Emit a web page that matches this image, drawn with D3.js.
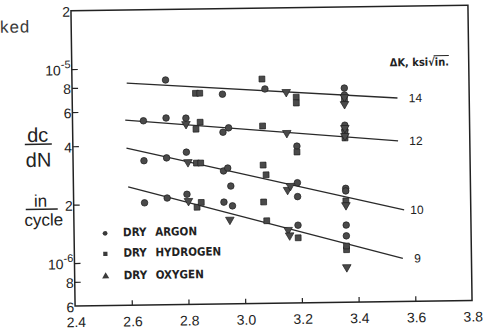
<!DOCTYPE html>
<html>
<head>
<meta charset="utf-8">
<script src="https://cdn.jsdelivr.net/npm/d3@7"></script>
<style>
  body { margin: 0; background: #fff; }
</style>
</head>
<body>
<div id="chart"></div>
<script>
// values are in units of 1e-6 in/cycle
const UNIT = 1e-6;

const argon = [
  [2.73, 8.65], [2.93, 7.24], [3.08, 7.65], [3.36, 7.63], [3.36, 7.03],
  [2.65, 5.35], [2.73, 5.51], [2.80, 5.48], [2.93, 4.61], [2.95, 4.85], [3.36, 4.91], [3.36, 4.64], [3.19, 3.86],
  [2.65, 3.33], [2.73, 3.43], [2.80, 3.66], [2.93, 2.91], [2.945, 3.01], [2.955, 2.43], [3.19, 2.50], [3.19, 2.12], [3.36, 2.32], [3.36, 2.25],
  [2.65, 2.02], [2.73, 2.13], [2.80, 2.22], [2.93, 2.01], [2.96, 1.92], [3.19, 1.51], [3.36, 1.50], [3.36, 1.32]
];

const hydrogen = [
  [2.835, 7.35], [2.85, 7.35], [3.07, 8.61], [3.19, 6.91], [3.19, 6.44], [3.36, 6.62],
  [2.835, 4.80], [2.85, 5.21], [3.07, 4.93], [3.19, 3.60], [3.36, 4.52], [3.36, 4.22],
  [2.835, 3.21], [2.85, 3.21], [3.07, 3.10], [3.08, 2.76], [3.07, 2.00], [3.36, 2.00],
  [2.835, 1.90], [2.85, 2.01], [3.08, 1.60], [3.19, 1.30], [3.36, 1.12], [3.36, 1.17]
];

const oxygen = [
  [3.155, 7.35], [3.36, 6.85], [3.36, 6.31],
  [2.80, 5.11], [3.155, 4.52], [3.36, 4.75], [3.36, 4.32],
  [2.805, 3.25], [3.155, 2.30], [3.165, 2.41], [3.36, 1.90],
  [2.805, 2.05], [2.95, 1.63], [3.155, 1.43], [3.16, 1.34], [3.36, 0.91]
];

// fitted lines, one per delta K level
const fitDK = ['14', '12', '10', '9'];
const fitStart = [[2.593, 8.39], [2.586, 5.41], [2.589, 3.88], [2.593, 2.45]];
const fitEnd = [[3.547, 6.72], [3.547, 4.04], [3.565, 1.78], [3.558, 1.00]];

const xTicks = [2.4, 2.6, 2.8, 3.0, 3.2, 3.4, 3.6, 3.8];
const yTicks = [20, 10, 8, 6, 4, 2, 1, 0.8, 0.6];
const yTickLabels = ['2', '10', '8', '6', '4', '2', '10', '8', '6'];
const yTickExp = ['', '-5', '', '', '', '', '-6', '', ''];
const legendLabels = ['DRY ARGON', 'DRY HYDROGEN', 'DRY OXYGEN'];

const width = 490, height = 332;
const ink = '#222';

const svg = d3.select('#chart').append('svg')
  .attr('width', width)
  .attr('height', height);

svg.append('rect')
  .attr('width', width)
  .attr('height', height)
  .attr('fill', '#fff');

// the scanned figure is tilted a little
const g = svg.append('g')
  .attr('transform', 'rotate(-0.8,272,155)');

const x = d3.scaleLinear()
  .domain([2.4, 3.8])
  .range([73, 470]);

const y = d3.scaleLog()
  .domain([0.6 * UNIT, 20 * UNIT])
  .range([303.3, 7.9]);

const plotLeft = x.range()[0], plotRight = x.range()[1];
const plotTop = y.range()[1], plotBottom = y.range()[0];

// page text cut off at the left
g.append('text')
  .attr('x', 31.5)
  .attr('y', 29)
  .attr('text-anchor', 'end')
  .style('font-family', '"Liberation Mono", monospace')
  .style('font-size', '17px')
  .attr('fill', '#3a3a3a')
  .text('ked');

// inward ticks
g.append('g')
  .attr('transform', `translate(0,${plotBottom})`)
  .call(d3.axisBottom(x).tickValues(xTicks.slice(1, -1)).tickSize(-5).tickFormat(''))
  .call(a => a.select('.domain').remove())
  .selectAll('.tick line')
  .attr('stroke', ink)
  .attr('stroke-width', 1.2);

g.append('g')
  .attr('transform', `translate(${plotLeft},0)`)
  .call(d3.axisLeft(y).tickValues(yTicks.slice(1, -1).map(v => v * UNIT)).tickSize(-6).tickFormat(''))
  .call(a => a.select('.domain').remove())
  .selectAll('.tick line')
  .attr('stroke', ink)
  .attr('stroke-width', 1.2);

// frame
g.append('rect')
  .attr('x', plotLeft)
  .attr('y', plotTop)
  .attr('width', plotRight - plotLeft)
  .attr('height', plotBottom - plotTop)
  .attr('fill', 'none')
  .attr('stroke', ink)
  .attr('stroke-width', 1.5);

// x tick labels
g.selectAll('.xlab')
  .data(xTicks)
  .enter().append('text')
  .attr('class', 'xlab')
  .attr('x', d => x(d) + 1)
  .attr('y', plotBottom + 21)
  .attr('text-anchor', 'middle')
  .style('font-family', '"Liberation Sans", Arial, sans-serif')
  .style('font-size', '14px')
  .attr('fill', ink)
  .text(d => d.toFixed(1));

// y tick labels
yTicks.forEach((v, i) => {
  const yy = y(v * UNIT) + 1;
  const hasExp = yTickExp[i] !== '';
  g.append('text')
    .attr('x', hasExp ? plotLeft - 11 : plotLeft - 1)
    .attr('y', yy)
    .attr('dy', '0.36em')
    .attr('text-anchor', 'end')
    .style('font-family', '"Liberation Sans", Arial, sans-serif')
    .style('font-size', '14px')
    .attr('fill', ink)
    .text(yTickLabels[i]);
  if (hasExp) {
    g.append('text')
      .attr('x', plotLeft - 11)
      .attr('y', yy - 6)
      .attr('dy', '0.36em')
      .style('font-family', '"Liberation Sans", Arial, sans-serif')
      .style('font-size', '11px')
      .attr('fill', ink)
      .text(yTickExp[i]);
  }
});

// y axis title as two fractions
const fracFont = '"Liberation Sans", Arial, sans-serif';
g.append('text').attr('x', 38).attr('y', 138.5).attr('text-anchor', 'middle')
  .style('font-family', fracFont).style('font-size', '20px').attr('fill', ink).text('dc');
g.append('line').attr('x1', 25).attr('x2', 52).attr('y1', 141).attr('y2', 141)
  .attr('stroke', ink).attr('stroke-width', 1.5);
g.append('text').attr('x', 38.5).attr('y', 163.5).attr('text-anchor', 'middle')
  .style('font-family', fracFont).style('font-size', '20px').attr('fill', ink).text('dN');
g.append('text').attr('x', 40).attr('y', 203.5).attr('text-anchor', 'middle')
  .style('font-family', fracFont).style('font-size', '17px').attr('fill', ink).text('in');
g.append('line').attr('x1', 25).attr('x2', 57).attr('y1', 206).attr('y2', 206)
  .attr('stroke', ink).attr('stroke-width', 1.5);
g.append('text').attr('x', 43).attr('y', 222.5).attr('text-anchor', 'middle')
  .style('font-family', fracFont).style('font-size', '17px').attr('fill', ink).text('cycle');

// fitted lines and their delta K labels
fitDK.forEach((k, i) => {
  const p0 = fitStart[i], p1 = fitEnd[i];
  g.append('line')
    .attr('x1', x(p0[0])).attr('y1', y(p0[1] * UNIT))
    .attr('x2', x(p1[0])).attr('y2', y(p1[1] * UNIT))
    .attr('stroke', '#2a2a2a')
    .attr('stroke-width', 1.3);
  g.append('text')
    .attr('x', x(3.61))
    .attr('y', y(p1[1] * UNIT))
    .attr('dy', '0.36em')
    .attr('text-anchor', 'middle')
    .style('font-family', '"Liberation Sans", Arial, sans-serif')
    .style('font-size', '12px')
    .attr('fill', ink)
    .text(k);
});

// delta K heading
const dk = g.append('text')
  .attr('x', 391)
  .attr('y', 68)
  .style('font-family', '"DejaVu Sans Condensed", "DejaVu Sans", sans-serif')
  .style('font-weight', 'bold')
  .style('font-size', '11px')
  .attr('fill', ink)
  .text('\u0394K, ksi\u221Ain.');
const dkNode = dk.node();
const rootIdx = dk.text().indexOf('\u221A');
const rootPos = dkNode.getStartPositionOfChar(rootIdx + 1);
const inLen = dkNode.getSubStringLength(rootIdx + 1, 3);
g.append('line')
  .attr('x1', rootPos.x - 1).attr('x2', rootPos.x + inLen)
  .attr('y1', 58).attr('y2', 58)
  .attr('stroke', ink).attr('stroke-width', 1);

// data markers
const series = [
  { data: argon, symbol: d3.symbolCircle, size: 34, rot: 0 },
  { data: hydrogen, symbol: d3.symbolSquare, size: 34, rot: 0 },
  { data: oxygen, symbol: d3.symbolTriangle, size: 32, rot: 180 }
];

series.forEach(s => {
  g.selectAll(null)
    .data(s.data)
    .enter().append('path')
    .attr('d', d3.symbol().type(s.symbol).size(s.size))
    .attr('transform', d => `translate(${x(d[0])},${y(d[1] * UNIT)}) rotate(${s.rot})`)
    .attr('fill', '#4a4a4a')
    .attr('stroke', '#1e1e1e')
    .attr('stroke-width', 0.7);
});

// legend
const legendY = [230, 250.5, 273];
const legendSym = [d3.symbolCircle, d3.symbolSquare, d3.symbolTriangle];
const legend = g.selectAll('.legend')
  .data(legendLabels)
  .enter().append('g')
  .attr('class', 'legend')
  .attr('transform', (_, i) => `translate(0,${legendY[i]})`);

legend.append('path')
  .attr('d', (_, i) => d3.symbol().type(legendSym[i]).size(i === 2 ? 22 : 18)())
  .attr('transform', 'translate(104,1)')
  .attr('fill', '#3a3a3a');

legend.append('text')
  .attr('x', 122)
  .attr('dy', '0.36em')
  .style('font-family', '"DejaVu Sans Condensed", "DejaVu Sans", sans-serif')
  .style('font-weight', 'bold')
  .style('font-size', '11.5px')
  .style('word-spacing', '5px')
  .attr('fill', ink)
  .text(d => d);
</script>
</body>
</html>
